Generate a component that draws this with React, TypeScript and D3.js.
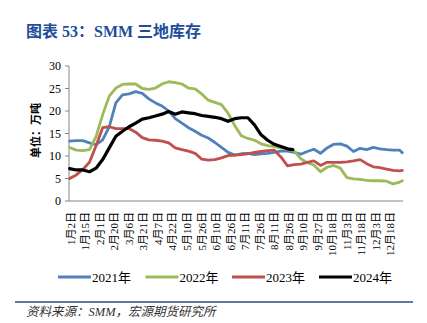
import React from 'react';
import * as d3 from 'd3';

// sample positions (trading-day index within the year)
const dayIndex = [0,5,10,15,20,25,30,35,40,45,50,55,60,65,70,75,80,85,90,95,100,105,110,115,120,125,130,135,140,145,150,155,160,165,170,175,180,185,190,195,200,205,210,215,220,225,230,235,240,245,250,252];
const day2024 = [0,5,10,15,20,25,30,35,40,45,50,55,60,65,70,75,80,85,90,95,100,105,110,115,120,125,130,135,140,145,150,155,160,165,169];

const v2021 = [13.3,13.4,13.4,12.9,12.5,13.6,16.5,21.8,23.6,23.8,24.3,23.9,22.7,21.8,21.1,20.0,18.3,17.3,16.3,15.5,14.6,14.0,13.0,11.9,10.8,10.2,10.5,10.6,10.3,10.5,10.6,10.8,11.1,11.1,10.8,10.4,11.0,11.5,10.6,11.8,12.6,12.7,12.2,11.0,11.7,11.4,11.9,11.6,11.4,11.3,11.3,10.7];
const v2022 = [11.9,11.3,11.2,11.4,14.3,19.2,23.3,25.1,25.9,26.0,26.0,25.0,24.8,25.1,26.0,26.5,26.3,26.0,25.1,24.9,23.8,22.4,21.9,21.4,19.5,16.8,14.5,13.9,13.5,12.7,12.3,12.1,11.8,11.5,11.1,9.4,8.5,8.0,6.5,7.5,7.9,7.3,5.2,4.9,4.8,4.6,4.5,4.5,4.4,3.8,4.2,4.5];
const v2023 = [5.0,5.8,7.0,8.6,12.3,16.3,16.5,16.1,16.1,16.1,15.3,14.1,13.6,13.5,13.3,12.9,11.8,11.4,11.1,10.6,9.3,9.1,9.2,9.6,10.1,10.2,10.3,10.5,10.8,11.0,11.2,11.3,9.8,7.8,8.1,8.2,8.6,8.9,7.9,8.6,8.6,8.6,8.7,8.9,9.2,8.3,7.6,7.4,7.1,6.8,6.7,6.8];
const v2024 = [7.2,6.9,6.9,6.5,7.3,9.2,11.8,14.4,15.5,16.5,17.3,18.2,18.5,18.9,19.3,19.9,19.3,19.8,19.6,19.4,19.0,18.8,18.6,18.3,17.7,18.3,18.5,18.5,16.9,14.7,13.5,12.6,12.1,11.6,11.4];

const seriesNames = ['2021年', '2022年', '2023年', '2024年'];
const seriesColors = ['#4F81BD', '#9BBB59', '#C0504D', '#000000'];

const xLabels = ['1月2日','1月15日','2月1日','2月20日','3月6日','3月21日','4月7日','4月22日','5月10日','5月26日','6月10日','6月26日','7月11日','7月26日','8月11日','8月26日','9月10日','9月27日','10月18日','11月3日','11月18日','12月3日','12月18日'];
const labelStep = 11;
const totalDays = 253;
const yTicks = [0, 5, 10, 15, 20, 25, 30];

export default function App() {
  const W = 427, H = 323;
  const left = 69, right = 403, top = 66, bottom = 201;
  const x = d3.scaleLinear().domain([0, totalDays]).range([left, right]);
  const y = d3.scaleLinear().domain([0, 30]).range([bottom, top]);
  const line = d3.line<[number, number]>().x(d => x(d[0] + 0.5)).y(d => y(d[1]));

  const series = [
    { days: dayIndex, vals: v2021 },
    { days: dayIndex, vals: v2022 },
    { days: dayIndex, vals: v2023 },
    { days: day2024, vals: v2024 },
  ];
  const serif = '"Times New Roman", "Liberation Serif", "Noto Sans CJK SC", serif';
  const legendX = [58, 145.5, 232, 319];

  return (
    <svg width={W} height={H} style={{ position: 'absolute', left: 0, top: 0, background: '#fff' }}>
      <text x={26} y={37} fontFamily={serif} fontWeight="bold" fontSize={16} fill="#1F4E99">图表 53：SMM 三地库存</text>

      {/* y axis */}
      <line x1={left} x2={left} y1={top} y2={bottom} stroke="#868686" strokeWidth={1} />
      {yTicks.map(t => (
        <g key={t}>
          <line x1={left - 4} x2={left} y1={y(t)} y2={y(t)} stroke="#868686" />
          <text x={left - 8} y={y(t)} dy="0.35em" textAnchor="end" fontFamily={serif} fontSize={12} fill="#000">{t}</text>
        </g>
      ))}
      <text transform={`translate(36,${(top + bottom) / 2 - 3}) rotate(-90)`} textAnchor="middle" dy="0.35em"
        fontFamily={serif} fontWeight="bold" fontSize={11} fill="#000">单位：万吨</text>

      {/* x axis */}
      <line x1={left} x2={right} y1={bottom} y2={bottom} stroke="#868686" strokeWidth={1} />
      {xLabels.map((lab, k) => (
        <text key={lab} transform={`translate(${x(k * labelStep + 1.5)},${bottom + 11}) rotate(-90)`}
          textAnchor="end" dy="0.35em" fontFamily={serif} fontSize={11} fill="#000">{lab}</text>
      ))}

      {/* lines */}
      {series.map((s, i) => (
        <path key={i} d={line(s.days.map((d, j) => [d, s.vals[j]] as [number, number])) || ''}
          fill="none" stroke={seriesColors[i]} strokeWidth={i === 3 ? 3.2 : 2.8} strokeLinejoin="round" strokeLinecap="round" />
      ))}

      {/* legend */}
      {seriesNames.map((n, i) => (
        <g key={n}>
          <line x1={legendX[i]} x2={legendX[i] + 33} y1={277} y2={277} stroke={seriesColors[i]} strokeWidth={3} />
          <text x={legendX[i] + 34} y={277} dy="0.35em" fontFamily={serif} fontSize={13} fill="#000">{n}</text>
        </g>
      ))}

      <line x1={15} x2={413} y1={302} y2={302} stroke="#2E4D8A" strokeWidth={1.5} />
      <text x={26} y={316} fontFamily={serif} fontStyle="italic" fontSize={12.5} fill="#333">资料来源：SMM，宏源期货研究所</text>
    </svg>
  );
}
